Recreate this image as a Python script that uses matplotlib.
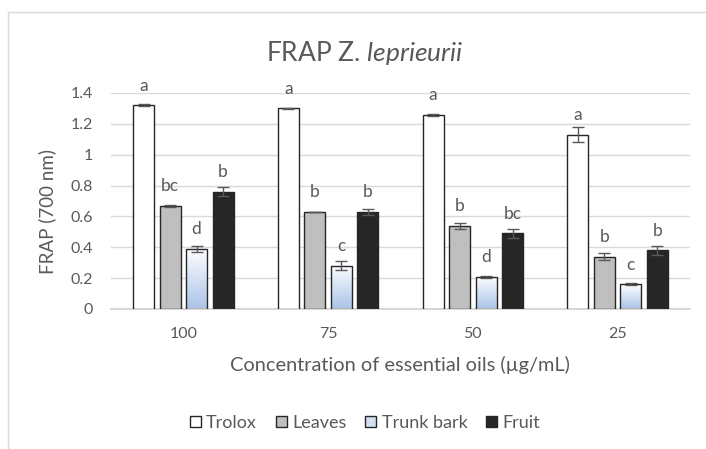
import matplotlib.pyplot as plt
import numpy as np
from matplotlib.patches import Patch
from matplotlib.colors import LinearSegmentedColormap
from matplotlib.lines import Line2D

plt.rcParams['font.family'] = ['Lato', 'DejaVu Sans']
plt.rcParams['mathtext.fontset'] = 'custom'
plt.rcParams['mathtext.rm'] = 'Lato'
plt.rcParams['mathtext.it'] = 'Lato:italic'

# FRAP values (absorbance at 700 nm) per concentration
concentrations = ['100', '75', '50', '25']
series = ['Trolox', 'Leaves', 'Trunk bark', 'Fruit']

trolox = [1.32, 1.30, 1.26, 1.13]
leaves = [0.67, 0.63, 0.54, 0.34]
trunk_bark = [0.39, 0.28, 0.21, 0.16]
fruit = [0.76, 0.63, 0.49, 0.38]

trolox_err = [0.006, 0.006, 0.006, 0.05]
leaves_err = [0.006, 0.0, 0.02, 0.02]
trunk_bark_err = [0.02, 0.03, 0.007, 0.007]
fruit_err = [0.03, 0.02, 0.03, 0.03]

trolox_lbl = ['a', 'a', 'a', 'a']
leaves_lbl = ['bc', 'b', 'b', 'b']
trunk_bark_lbl = ['d', 'c', 'd', 'c']
fruit_lbl = ['b', 'b', 'bc', 'b']

values = [trolox, leaves, trunk_bark, fruit]
errors = [trolox_err, leaves_err, trunk_bark_err, fruit_err]
letters = [trolox_lbl, leaves_lbl, trunk_bark_lbl, fruit_lbl]
faces = ['white', '#BFBFBF', None, '#262626']

TXT = '#595959'
EDGE = '#262626'
GRID = '#D9D9D9'

W, H = 706, 449
fig = plt.figure(figsize=(W / 100, H / 100), dpi=100)
ax = fig.add_axes([111 / W, 1 - 309 / H, 579 / W, 216 / H])

x = np.arange(len(concentrations))
pitch = 0.183
width = 0.145
blues = LinearSegmentedColormap.from_list('bark', ['#FFFFFF', '#A9C3E8'])
grad = np.linspace(0, 1, 256).reshape(-1, 1)

for i, name in enumerate(series):
    pos = x + (i - 1.5) * pitch
    if faces[i] is None:
        # gradient fill, clipped to each bar
        bars = ax.bar(pos, values[i], width, facecolor='none', edgecolor=EDGE,
                      linewidth=1.0, zorder=3)
        for b in bars:
            im = ax.imshow(grad, cmap=blues, aspect='auto', zorder=2.5,
                           extent=(b.get_x(), b.get_x() + b.get_width(), 0, b.get_height()),
                           origin='upper', interpolation='bicubic')
            im.set_clip_path(b)
    else:
        ax.bar(pos, values[i], width, facecolor=faces[i], edgecolor=EDGE,
               linewidth=1.0, zorder=3)
    ax.errorbar(pos, values[i], yerr=errors[i], fmt='none', ecolor='#595959',
                elinewidth=1.0, capsize=4, capthick=1.0, zorder=4)
    for xp, v, t in zip(pos, values[i], letters[i]):
        ax.annotate(t, (xp, v), xytext=(0, 14), textcoords='offset points',
                    ha='center', va='center', fontsize=12.5, color=TXT)

ax.set_xlim(-0.5, 3.5)
ax.set_ylim(0, 1.4)
ax.set_yticks(np.arange(0, 1.41, 0.2))
ax.set_yticklabels(['0', '0.2', '0.4', '0.6', '0.8', '1', '1.2', '1.4'])
ax.set_xticks(x)
ax.set_xticklabels(concentrations)
ax.tick_params(axis='both', length=0, labelsize=11.5, colors=TXT)
ax.tick_params(axis='x', pad=13)
ax.tick_params(axis='y', pad=13)
ax.yaxis.grid(True, color=GRID, linewidth=1.0)
ax.set_axisbelow(True)
for s in ['top', 'right', 'left']:
    ax.spines[s].set_visible(False)
ax.spines['bottom'].set_color(GRID)
ax.spines['bottom'].set_linewidth(1.5)

fig.text(365 / W, 1 - 61 / H, r'FRAP Z. $\mathit{leprieurii}$', ha='center', va='baseline',
         fontsize=19, color=TXT)
fig.text(400 / W, 1 - 371 / H, 'Concentration of essential oils (µg/mL)', ha='center',
         va='baseline', fontsize=14.4, color=TXT)
fig.text(47 / W, 1 - 211 / H, 'FRAP (700 nm)', ha='center', va='center', rotation=90,
         fontsize=13.5, color=TXT)

# chart frame
fig.add_artist(Line2D([8 / W, 8 / W], [0, 1 - 12 / H], color=GRID, lw=1))
fig.add_artist(Line2D([8 / W, 1], [1 - 12 / H, 1 - 12 / H], color=GRID, lw=1))

handles = [Patch(facecolor='white', edgecolor=EDGE),
           Patch(facecolor='#BFBFBF', edgecolor=EDGE),
           Patch(facecolor='#D3E0F3', edgecolor=EDGE),
           Patch(facecolor='#262626', edgecolor='#262626')]
leg = fig.legend(handles, series, loc='center', bbox_to_anchor=(365 / W, 1 - 423 / H),
                 ncol=4, frameon=False, fontsize=13, handlelength=0.6, handleheight=0.6,
                 handletextpad=0.3, columnspacing=1.05, borderpad=0)
for t in leg.get_texts():
    t.set_color(TXT)

fig.savefig('out.png', dpi=100)
